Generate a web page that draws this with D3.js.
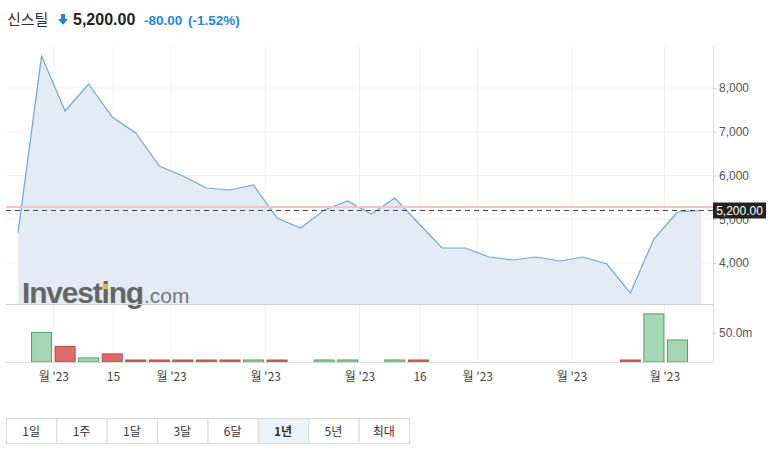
<!DOCTYPE html>
<html><head><meta charset="utf-8">
<script src="https://cdn.jsdelivr.net/npm/d3@7/dist/d3.min.js"></script>
<style>
body{margin:0;background:#fff;}
svg{display:block;font-family:"Liberation Sans","Noto Sans CJK KR",Arial,sans-serif;}
</style></head><body>
<svg id="c" width="779" height="450"></svg>
<script>
// ---- data ----
const prices = [4690, 8730, 7474, 8091, 7337, 6971, 6217, 5989, 5714, 5669,
                5783, 5029, 4800, 5211, 5417, 5120, 5486, 4914, 4343, 4343,
                4137, 4069, 4137, 4046, 4137, 3977, 3314, 4549, 5166, 5200];
const volumes = [0, 51, 27, 7, 14, 3, 1.5, 3, 1.5, 3,
                 1.5, 1.5, 0, 1.5, 1.5, 0, 1.5, 3, 0, 0,
                 0, 0, 0, 0, 0, 0, 1.5, 83, 38, 0]; // millions
const xTickPos = [1.5, 4.03, 6.5, 10.5, 14.5, 17.05, 19.5, 23.5, 27.45];
const xTickLabels = ["월 '23", "15", "월 '23", "월 '23", "월 '23", "16", "월 '23", "월 '23", "월 '23"];
const yTicks = [4000, 5000, 6000, 7000, 8000];
const volTicks = [50];
const lastPrice = 5200;
const prevClose = 5280;
const titleName = "신스틸";
const titlePrice = "5,200.00";
const titleChange = "-80.00";
const titlePct = "(-1.52%)";
const ranges = ["1일", "1주", "1달", "3달", "6달", "1년", "5년", "최대"];
const activeRange = "1년";

// ---- layout ----
const L = 6, R = 713, T = 46, PB = 304, VB = 362;
const svg = d3.select("#c");
const x = d3.scaleLinear().domain([0, prices.length - 1]).range([18, 701]);
const y = d3.scaleLinear().domain([3063, 8960]).range([PB, T]);
const yv = d3.scaleLinear().domain([0, 100]).range([VB, PB]);

// grid
const g = svg.append("g");
g.selectAll(".hg").data(yTicks).join("line")
  .attr("x1", L).attr("x2", R).attr("y1", d => y(d)).attr("y2", d => y(d))
  .attr("stroke", "#f1f1f1");
g.selectAll(".vg").data(xTickPos).join("line")
  .attr("x1", d => x(d)).attr("x2", d => x(d)).attr("y1", T).attr("y2", VB)
  .attr("stroke", "#f1f1f1");

// area + line
svg.append("path").datum(prices)
  .attr("d", d3.area().x((d, i) => x(i)).y0(PB).y1(d => y(d)))
  .attr("fill", "#e3ecf5");
// logo
const logo = svg.append("g");
const lt = logo.append("text").attr("x", 22).attr("y", 303)
  .attr("font-size", 30).attr("font-weight", "bold").attr("fill", "#666")
  .attr("letter-spacing", -1.2).text("Investing");
logo.append("text").attr("x", 144).attr("y", 303)
  .attr("font-size", 21).attr("fill", "#777").text(".com");
try {
  const ext = lt.node().getExtentOfChar(6);
  logo.append("rect").attr("x", ext.x + ext.width/2 - 2.5).attr("y", 284)
    .attr("width", 5.5).attr("height", 5).attr("fill", "#f2b233");
} catch(e) {}

svg.append("path").datum(prices)
  .attr("d", d3.line().x((d, i) => x(i)).y(d => y(d)))
  .attr("fill", "none").attr("stroke", "#6fa7d8").attr("stroke-width", 1.2);

// prev close & last price lines
svg.append("line").attr("x1", L).attr("x2", R).attr("y1", y(prevClose)).attr("y2", y(prevClose))
  .attr("stroke", "#f7c4c4").attr("stroke-width", 2);
svg.append("line").attr("x1", L).attr("x2", R).attr("y1", y(lastPrice)).attr("y2", y(lastPrice))
  .attr("stroke", "#444").attr("stroke-dasharray", "5,4");

// volume bars
svg.selectAll(".vb").data(volumes.map((v, i) => ({v, i}))).join("rect")
  .filter(d => d.v > 0)
  .attr("x", d => x(d.i) - 10).attr("width", 20)
  .attr("y", d => Math.min(yv(d.v), VB - 2)).attr("height", d => Math.max(VB - yv(d.v), 2))
  .attr("fill", d => d.i > 0 && prices[d.i] >= prices[d.i - 1] ? "#a6d7b4" : "#e06a6a")
  .attr("stroke", d => d.i > 0 && prices[d.i] >= prices[d.i - 1] ? "#4f9f66" : "#b44a4a")
  .attr("stroke-width", 1);

// panel borders
svg.append("line").attr("x1", L).attr("x2", R).attr("y1", PB + 0.5).attr("y2", PB + 0.5).attr("stroke", "#cfcfcf");
svg.append("line").attr("x1", L).attr("x2", R).attr("y1", VB + 0.5).attr("y2", VB + 0.5).attr("stroke", "#dcdcdc");
svg.append("line").attr("x1", R + 0.5).attr("x2", R + 0.5).attr("y1", T).attr("y2", VB).attr("stroke", "#dcdcdc");

// y axis
const ya = svg.append("g").attr("transform", `translate(${R},0)`)
  .call(d3.axisRight(y).tickValues(yTicks).tickSize(3).tickFormat(d3.format(",")));
ya.select(".domain").remove();
ya.selectAll("line").attr("stroke", "#ccc");
ya.selectAll("text").attr("fill", "#555").attr("font-size", 12).attr("x", 6)
  .attr("font-family", "Liberation Sans, Arial, sans-serif");
const va = svg.append("g").attr("transform", `translate(${R},0)`)
  .call(d3.axisRight(yv).tickValues(volTicks).tickSize(3).tickFormat(d => d.toFixed(1) + "m"));
va.select(".domain").remove();
va.selectAll("line").attr("stroke", "#ccc");
va.selectAll("text").attr("fill", "#555").attr("font-size", 12).attr("x", 6)
  .attr("font-family", "Liberation Sans, Arial, sans-serif");

// last price label
const lg = svg.append("g");
lg.append("rect").attr("x", R).attr("y", y(lastPrice) - 8).attr("width", 53).attr("height", 16).attr("fill", "#222");
lg.append("text").attr("x", R + 26.5).attr("y", y(lastPrice) + 4.5).attr("text-anchor", "middle")
  .attr("fill", "#fff").attr("font-size", 12).text(d3.format(",.2f")(lastPrice));

// x axis
const xa = svg.append("g").attr("transform", `translate(0,${VB})`)
  .call(d3.axisBottom(x).tickValues(xTickPos).tickSize(0).tickFormat((d, i) => xTickLabels[i]));
xa.select(".domain").remove();
xa.selectAll("text").attr("fill", "#444").attr("font-size", 12).attr("dy", 0).attr("y", 19)
  .attr("font-family", "Noto Sans CJK KR, Liberation Sans, sans-serif");

// title
const tg = svg.append("g");
tg.append("text").attr("x", 7).attr("y", 25).attr("font-size", 15).attr("fill", "#333")
  .attr("font-family", "Noto Sans CJK KR, sans-serif").text(titleName);
tg.append("path").attr("d", "M61,14 h4 v5 h3 l-5,6 l-5,-6 h3 z").attr("fill", "#1f87de");
tg.append("text").attr("x", 73).attr("y", 25).attr("font-size", 16).attr("font-weight", "bold")
  .attr("fill", "#222").text(titlePrice);
tg.append("text").attr("x", 144).attr("y", 25).attr("font-size", 13.5).attr("font-weight", "bold")
  .attr("fill", "#1f87de").text(titleChange);
tg.append("text").attr("x", 188).attr("y", 25).attr("font-size", 13.5).attr("font-weight", "bold")
  .attr("fill", "#1f87de").text(titlePct);

// range buttons
const bx = d3.scaleBand().domain(ranges).range([6, 409]).padding(0);
const bg = svg.append("g").selectAll("g").data(ranges).join("g")
  .attr("transform", d => `translate(${bx(d)},418)`);
bg.append("rect").attr("x", 0.5).attr("y", 0.5).attr("width", bx.bandwidth()).attr("height", 25)
  .attr("fill", d => d === activeRange ? "#ebf3fb" : "#fff").attr("stroke", "#d9d9d9");
bg.append("text").attr("x", bx.bandwidth() / 2).attr("y", 17.5).attr("text-anchor", "middle")
  .attr("font-size", 12).attr("fill", "#333")
  .attr("font-weight", d => d === activeRange ? "bold" : "normal")
  .attr("font-family", "Noto Sans CJK KR, Liberation Sans, sans-serif")
  .text(d => d);
</script>
</body></html>
